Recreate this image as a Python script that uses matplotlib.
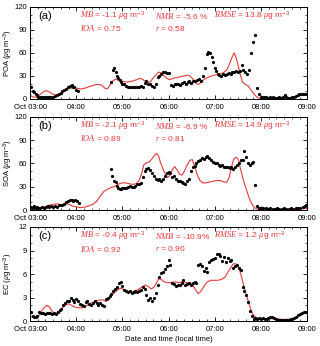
import numpy as np
import matplotlib
matplotlib.use('Agg')
import matplotlib.pyplot as plt
from matplotlib.ticker import MultipleLocator

plt.rcParams['font.family'] = ['Liberation Sans', 'DejaVu Sans']
plt.rcParams['mathtext.fontset'] = 'custom'
plt.rcParams['mathtext.it'] = 'Liberation Serif:italic'
plt.rcParams['mathtext.rm'] = 'Liberation Sans'

# ---- data (hours of local time) ----
poa_obs_t = [3.00, 3.03, 3.06, 3.09, 3.12, 3.15, 3.18, 3.22, 3.26, 3.30, 3.34, 3.38, 3.42, 3.46, 3.50,
             3.54, 3.58, 3.62, 3.66, 3.70, 3.74, 3.78, 3.82, 3.86, 3.90, 3.93, 3.96, 4.00, 4.04,
             4.75, 4.79, 4.82, 4.85, 4.88, 4.91, 4.94, 4.97, 5.00, 5.04, 5.08, 5.12, 5.16, 5.20, 5.24,
             5.28, 5.32, 5.36, 5.40, 5.44, 5.48, 5.52, 5.56, 5.60, 5.64, 5.68, 5.72, 5.76, 5.80, 5.84,
             5.88, 5.92, 5.96, 6.00, 6.05, 6.09, 6.13, 6.17, 6.21, 6.25, 6.29, 6.33, 6.37, 6.41, 6.45,
             6.49, 6.53, 6.57, 6.61, 6.65, 6.70, 6.75, 6.79, 6.83, 6.86, 6.89, 6.93, 6.96, 7.00, 7.03,
             7.06, 7.10, 7.14, 7.18, 7.22, 7.26, 7.30, 7.34, 7.38, 7.42, 7.46, 7.50, 7.54, 7.58, 7.62,
             7.66, 7.70, 7.74, 7.79, 7.83, 7.87, 7.91, 7.95, 7.99, 8.03, 8.07, 8.11, 8.15, 8.19, 8.23,
             8.27, 8.31, 8.35, 8.39, 8.43, 8.47, 8.51, 8.55, 8.59, 8.63, 8.67, 8.71, 8.75, 8.79, 8.83,
             8.87, 8.91, 8.95, 8.99]
poa_obs = [16, 15, 11, 9, 7, 5, 3, 2, 3, 3, 2, 3, 3, 2, 3,
           4, 5, 6, 8, 10, 12, 13, 15, 17, 18, 15, 16, 12, 10,
           22, 38, 41, 35, 30, 27, 25, 22, 20, 20, 17, 15, 16, 15, 15,
           16, 15, 16, 17, 16, 21, 23, 20, 19, 17, 16, 19, 28, 30, 33,
           35, 35, 34, 34, 18, 17, 19, 20, 19, 18, 21, 22, 19, 22, 23,
           21, 23, 24, 25, 26, 23, 30, 40, 59, 61, 60, 55, 48, 40, 36,
           33, 31, 30, 32, 31, 33, 34, 33, 35, 35, 36, 35, 37, 44, 38,
           35, 33, 38, 60, 74, 84, 14, 6, 3, 2, 2, 2, 1, 2, 1,
           2, 1, 1, 2, 1, 2, 5, 2, 1, 1, 2, 3, 4, 5, 6,
           7, 6, 7, 7]
poa_mod_t = [3.00, 3.05, 3.12, 3.20, 3.28, 3.35, 3.42, 3.50, 3.58, 3.65, 3.72, 3.80, 3.88, 3.95, 4.02,
             4.10, 4.18, 4.28, 4.38, 4.47, 4.55, 4.62, 4.67, 4.72, 4.78, 4.85, 4.92, 5.00, 5.10, 5.20,
             5.30, 5.38, 5.45, 5.52, 5.60, 5.66, 5.72, 5.78, 5.84, 5.90, 5.96, 6.02, 6.10, 6.18, 6.26,
             6.34, 6.42, 6.48, 6.54, 6.60, 6.65, 6.70, 6.78, 6.88, 6.98, 7.08, 7.18, 7.26, 7.32, 7.37,
             7.42, 7.47, 7.52, 7.56, 7.60, 7.66, 7.72, 7.78, 7.84, 7.90, 7.96, 8.05, 8.20, 8.35, 8.45,
             8.52, 8.60, 8.68, 8.75, 8.82, 8.90, 9.00]
poa_mod = [5, 3, 2, 5, 9, 11, 9, 6, 5, 7, 10, 13, 14, 15, 14,
           13, 14, 16, 18, 19, 18, 14, 13, 17, 23, 26, 24, 23, 22, 23,
           25, 27, 25, 22, 22, 27, 31, 35, 34, 30, 27, 25, 27, 28, 29,
           30, 31, 29, 25, 20, 19, 22, 26, 29, 31, 32, 34, 38, 46, 54,
           60, 52, 40, 30, 22, 19, 17, 12, 7, 3, 1, 0.5, 0.5, 1, 2,
           1.5, 0.5, 1, 2, 4, 5, 6]

soa_obs_t = [3.00, 3.03, 3.06, 3.09, 3.12, 3.15, 3.18, 3.22, 3.26, 3.30, 3.34, 3.38, 3.42, 3.46, 3.50,
             3.54, 3.58, 3.62, 3.66, 3.70, 3.74, 3.78, 3.82, 3.86, 3.90, 3.94, 3.98, 4.02, 4.06,
             4.75, 4.78, 4.82, 4.85, 4.88, 4.91, 4.94, 4.97, 5.00, 5.04, 5.08, 5.12, 5.16, 5.20, 5.24,
             5.28, 5.32, 5.36, 5.40, 5.44, 5.48, 5.52, 5.56, 5.60, 5.64, 5.68, 5.72, 5.76, 5.80, 5.84,
             5.88, 5.92, 5.96, 6.00, 6.04, 6.08, 6.12, 6.16, 6.20, 6.24, 6.28, 6.32, 6.36, 6.40, 6.44,
             6.48, 6.52, 6.56, 6.60, 6.64, 6.68, 6.72, 6.76, 6.80, 6.84, 6.88, 6.92, 6.96, 7.00, 7.04,
             7.08, 7.12, 7.16, 7.20, 7.24, 7.28, 7.32, 7.36, 7.40, 7.44, 7.48, 7.52, 7.56, 7.60, 7.64,
             7.68, 7.72, 7.76, 7.80, 7.83, 7.87, 7.92, 7.96, 8.00, 8.05, 8.10, 8.15, 8.20, 8.25, 8.30,
             8.35, 8.40, 8.45, 8.50, 8.55, 8.60, 8.65, 8.70, 8.75, 8.80, 8.85, 8.90, 8.95, 8.98]
soa_obs = [3, 4, 2, 5, 3, 4, 2, 3, 4, 3, 4, 5, 4, 5, 4,
           5, 4, 6, 7, 6, 8, 10, 12, 13, 13, 12, 13, 12, 9,
           53, 44, 37, 36, 31, 28, 27, 27, 28, 29, 28, 30, 31, 30, 30,
           31, 33, 34, 35, 42, 50, 53, 54, 52, 48, 44, 40, 39, 40, 38,
           40, 44, 48, 49, 48, 42, 44, 40, 38, 38, 36, 35, 34, 38, 40,
           50, 55, 57, 60, 63, 65, 67, 66, 68, 70, 67, 64, 62, 61, 60,
           58, 57, 58, 56, 55, 56, 54, 55, 53, 56, 58, 60, 64, 65, 76,
           68, 60, 58, 61, 62, 32, 5, 3, 2, 2, 2, 1, 2, 1, 1,
           2, 1, 1, 2, 1, 1, 2, 1, 2, 2, 3, 4, 5, 7]
soa_mod_t = [3.00, 3.10, 3.20, 3.30, 3.40, 3.50, 3.58, 3.66, 3.74, 3.80, 3.86, 3.92, 4.00, 4.10, 4.20,
             4.30, 4.38, 4.45, 4.52, 4.60, 4.68, 4.75, 4.82, 4.90, 4.98, 5.06, 5.14, 5.22, 5.30, 5.36,
             5.42, 5.46, 5.52, 5.58, 5.64, 5.70, 5.74, 5.78, 5.82, 5.87, 5.93, 5.98, 6.03, 6.08, 6.13,
             6.18, 6.24, 6.29, 6.34, 6.40, 6.46, 6.51, 6.56, 6.62, 6.68, 6.74, 6.80, 6.88, 6.96, 7.04,
             7.12, 7.20, 7.26, 7.31, 7.36, 7.41, 7.46, 7.51, 7.56, 7.62, 7.68, 7.74, 7.80, 7.86, 7.92,
             8.00, 8.20, 8.50, 8.80, 8.95, 9.00]
soa_mod = [1, 1, 2, 4, 6, 7, 8, 7, 7, 8, 7, 5, 4, 3, 4,
           6, 8, 12, 18, 24, 27, 29, 30, 33, 35, 35, 34, 33, 34, 38,
           48, 58, 61, 62, 66, 71, 73, 70, 62, 54, 46, 42, 45, 52, 56,
           52, 46, 45, 50, 58, 64, 65, 57, 45, 38, 35, 35, 36, 37, 38,
           38, 36, 36, 42, 55, 66, 68, 65, 52, 38, 27, 16, 8, 3, 1,
           0.5, 0.5, 0.5, 1, 2, 2]

ec_obs_t = [3.00, 3.03, 3.06, 3.09, 3.12, 3.15, 3.20, 3.24, 3.28, 3.32, 3.36, 3.40, 3.44, 3.48, 3.52,
            3.56, 3.60, 3.64, 3.68, 3.72, 3.76, 3.80, 3.84, 3.88, 3.92, 3.96, 4.00, 4.04, 4.08, 4.12,
            4.16, 4.20, 4.24, 4.28, 4.32, 4.36, 4.40, 4.44, 4.48, 4.52, 4.56, 4.60, 4.64, 4.68, 4.72,
            4.76, 4.80, 4.84, 4.88, 4.92, 4.96, 5.00, 5.04, 5.08, 5.12, 5.16, 5.20, 5.24, 5.28, 5.32,
            5.36, 5.40, 5.44, 5.48, 5.52, 5.56, 5.60, 5.64, 5.68, 5.72, 5.76, 5.80, 5.84, 5.88, 5.92,
            5.96, 6.00, 6.04, 6.08, 6.12, 6.16, 6.20, 6.24, 6.28, 6.32, 6.36, 6.40, 6.44, 6.48, 6.52,
            6.56, 6.60, 6.64, 6.68, 6.72, 6.76, 6.80, 6.84, 6.88, 6.92, 6.96, 7.00, 7.04, 7.08, 7.12,
            7.16, 7.20, 7.24, 7.28, 7.32, 7.36, 7.40, 7.44, 7.48, 7.52, 7.56, 7.60, 7.64, 7.68, 7.72,
            7.76, 7.80, 7.84, 7.88, 7.92, 7.96, 8.00, 8.04, 8.08, 8.12, 8.16, 8.20, 8.24, 8.28, 8.32,
            8.36, 8.40, 8.44, 8.48, 8.52, 8.56, 8.60, 8.64, 8.68, 8.72, 8.76, 8.80, 8.84, 8.88, 8.92,
            8.96, 9.00]
ec_obs = [1.2, 1.2, 0.6, 0.5, 0.5, 0.6, 1.1, 1.0, 1.0, 0.9, 1.0, 1.0, 1.0, 0.9, 1.0,
          0.9, 1.2, 1.4, 1.6, 2.0, 2.3, 2.5, 2.5, 3.0, 2.7, 2.4, 2.8, 2.6, 2.2, 2.1,
          1.9, 2.4, 2.5, 2.2, 2.0, 2.3, 2.5, 2.3, 2.0, 2.3, 2.1, 1.9, 2.8, 3.0, 3.2,
          3.4, 3.8, 4.1, 4.4, 4.8, 5.0, 4.5, 4.0, 3.8, 3.7, 3.8, 3.6, 3.7, 3.8, 3.7,
          3.9, 4.0, 4.3, 4.1, 3.3, 2.7, 3.0, 2.6, 2.9, 3.6, 4.6, 5.6, 6.1, 6.3, 6.6,
          7.0, 7.8, 7.1, 4.8, 4.7, 4.5, 4.6, 4.6, 4.8, 5.2, 4.6, 4.7, 4.9, 4.6, 4.8,
          5.0, 4.9, 7.2, 7.3, 7.0, 6.4, 6.8, 6.2, 7.5, 7.8, 7.9, 8.1, 8.5, 8.5, 8.3,
          7.6, 8.2, 7.5, 8.0, 7.7, 7.8, 6.8, 7.0, 7.2, 6.8, 6.5, 4.4, 3.8, 3.3, 2.4,
          1.3, 0.6, 0.3, 0.4, 0.3, 0.4, 0.3, 0.4, 0.3, 0.3, 0.4, 0.5, 0.5, 0.4, 0.3,
          0.2, 0.2, 0.2, 0.2, 0.2, 0.2, 0.2, 0.3, 0.3, 0.4, 0.5, 0.8, 0.9, 1.0, 1.1,
          1.2, 1.2]
ec_mod_t = [3.00, 3.06, 3.12, 3.18, 3.24, 3.30, 3.36, 3.42, 3.48, 3.54, 3.60, 3.66, 3.72, 3.78, 3.84,
            3.90, 3.96, 4.04, 4.12, 4.20, 4.28, 4.36, 4.44, 4.52, 4.58, 4.64, 4.70, 4.76, 4.82, 4.90,
            4.96, 5.04, 5.12, 5.20, 5.28, 5.36, 5.44, 5.50, 5.56, 5.62, 5.68, 5.74, 5.78, 5.84, 5.90,
            5.98, 6.06, 6.14, 6.22, 6.30, 6.38, 6.46, 6.52, 6.58, 6.64, 6.70, 6.76, 6.82, 6.90, 6.98,
            7.06, 7.14, 7.22, 7.28, 7.34, 7.40, 7.46, 7.52, 7.58, 7.64, 7.70, 7.76, 7.82, 7.88, 7.96,
            8.10, 8.30, 8.50, 8.70, 8.80, 8.88, 8.96, 9.00]
ec_mod = [0.6, 0.5, 0.4, 0.6, 1.2, 1.7, 2.0, 1.8, 1.2, 1.0, 1.1, 1.4, 1.8, 2.1, 2.2,
          2.0, 1.8, 1.7, 1.7, 1.9, 2.2, 2.4, 2.6, 2.7, 2.7, 2.5, 2.7, 3.2, 3.6, 4.0,
          4.2, 4.0, 3.8, 3.7, 3.8, 4.1, 4.4, 4.6, 4.4, 4.1, 4.3, 4.9, 5.4, 5.3, 5.0,
          4.9, 4.9, 5.0, 4.9, 5.0, 4.9, 4.9, 4.6, 4.0, 3.5, 3.8, 4.4, 4.9, 5.2, 5.2,
          5.2, 5.3, 5.6, 6.2, 6.8, 7.3, 7.3, 6.8, 5.6, 4.2, 3.0, 1.8, 0.9, 0.5, 0.3,
          0.3, 0.3, 0.2, 0.3, 0.5, 0.9, 1.1, 1.2]

labels = ['(a)', '(b)', '(c)']
ylabels = [r'POA ($\mu$g m$^{-3}$)', r'SOA ($\mu$g m$^{-3}$)', r'EC ($\mu$g m$^{-3}$)']
ymax = [120, 120, 12]
stats = [
    [r'$\mathit{MB}$ = -1.1 $\mu$g m$^{-3}$', r'$\mathit{NMB}$ = -5.6 %', r'$\mathit{RMSE}$ = 13.8 $\mu$g m$^{-3}$',
     r'$\mathit{IOA}$ = 0.75', r'$\mathit{r}$ = 0.58'],
    [r'$\mathit{MB}$ = -2.1 $\mu$g m$^{-3}$', r'$\mathit{NMB}$ = -6.9 %', r'$\mathit{RMSE}$ = 14.9 $\mu$g m$^{-3}$',
     r'$\mathit{IOA}$ = 0.89', r'$\mathit{r}$ = 0.81'],
    [r'$\mathit{MB}$ = -0.4 $\mu$g m$^{-3}$', r'$\mathit{NMB}$ = -10.9%', r'$\mathit{RMSE}$ = 1.2 $\mu$g m$^{-3}$',
     r'$\mathit{IOA}$ = 0.92', r'$\mathit{r}$ = 0.90'],
]
xticks = [3, 4, 5, 6, 7, 8, 9]
xticklabels = ['Oct 03:00', '04:00', '05:00', '06:00', '07:00', '08:00', '09:00']

obs = [(poa_obs_t, poa_obs), (soa_obs_t, soa_obs), (ec_obs_t, ec_obs)]
mod = [(poa_mod_t, poa_mod), (soa_mod_t, soa_mod), (ec_mod_t, ec_mod)]

fig = plt.figure(figsize=(3.2, 3.46), dpi=100)
boxes = [[0.094, 0.714, 0.866, 0.266], [0.094, 0.393, 0.866, 0.269], [0.094, 0.072, 0.866, 0.272]]
red = '#e8393a'

for i in range(3):
    ax = fig.add_axes(boxes[i])
    ax.plot(mod[i][0], mod[i][1], color=red, lw=0.8, zorder=2)
    ax.plot(obs[i][0], obs[i][1], 'o', color='black', ms=2.3, mew=0, zorder=3)
    ax.set_xlim(3, 9)
    ax.set_ylim(0, ymax[i])
    ax.set_xticks(xticks)
    ax.set_xticklabels(xticklabels)
    ax.xaxis.set_minor_locator(MultipleLocator(1 / 6))
    ax.yaxis.set_major_locator(MultipleLocator(ymax[i] / 4))
    ax.yaxis.set_minor_locator(MultipleLocator(ymax[i] / 12))
    ax.tick_params(which='both', direction='in', top=True, right=True, labelsize=5.5)
    ax.tick_params(axis='x', pad=3.5)
    ax.tick_params(axis='y', pad=2)
    ax.tick_params(which='major', length=3, width=0.6)
    ax.tick_params(which='minor', length=1.5, width=0.5)
    for s in ax.spines.values():
        s.set_linewidth(0.7)
    ax.set_ylabel(ylabels[i], fontsize=5.5)
    ax.yaxis.set_label_coords(-0.056, 0.5)
    ax.text(0.03, 0.9, labels[i], transform=ax.transAxes, fontsize=8, va='center')
    st = stats[i]
    ax.text(0.18, 0.90, st[0], transform=ax.transAxes, fontsize=6.0, color=red, va='center')
    ax.text(0.45, 0.90, st[1], transform=ax.transAxes, fontsize=6.0, color=red, va='center')
    ax.text(0.665, 0.90, st[2], transform=ax.transAxes, fontsize=6.0, color=red, va='center')
    ax.text(0.18, 0.77, st[3], transform=ax.transAxes, fontsize=6.0, color=red, va='center')
    ax.text(0.45, 0.77, st[4], transform=ax.transAxes, fontsize=6.0, color=red, va='center')
    if i == 2:
        ax.set_xlabel('Date and time (local time)', fontsize=5.5, labelpad=2.5)

fig.savefig('out.png', dpi=100)
